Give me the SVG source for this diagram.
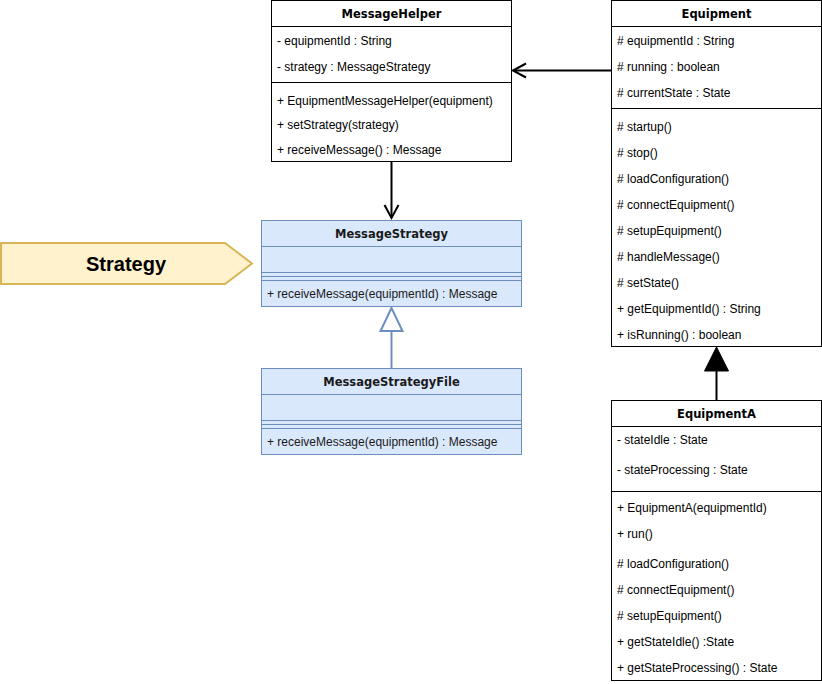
<svg xmlns="http://www.w3.org/2000/svg" width="822" height="684" viewBox="0 0 822 684">
  <style>
    .box { fill: #ffffff; stroke: #000000; stroke-width: 1; }
    .bbox { fill: #dae8fc; stroke: #6c8ebf; stroke-width: 1; }
    .sep { stroke: #000000; stroke-width: 1; fill: none; }
    .bsep { stroke: #6c8ebf; stroke-width: 1; fill: none; }
    .title { font-family: "DejaVu Sans", Verdana, sans-serif; font-weight: bold; font-size: 11.5px; fill: #000000; text-anchor: middle; }
    .item { font-family: "Liberation Sans", Arial, Helvetica, sans-serif; font-size: 12px; fill: #000000; }
    .btext { fill: #1a1a1a; }
    .edge { stroke: #000000; stroke-width: 2; fill: none; }
    .bedge { stroke: #6c8ebf; stroke-width: 2; fill: none; }
  </style>

  <!-- Connectors -->
  <g id="connectors">
    <!-- Equipment -> MessageHelper (association) -->
    <line class="edge" x1="611" y1="70.5" x2="513" y2="70.5"/>
    <polyline class="edge" points="526,63.5 513,70.5 526,77.5"/>
    <!-- MessageHelper -> MessageStrategy (association) -->
    <line class="edge" x1="391.5" y1="162" x2="391.5" y2="218"/>
    <polyline class="edge" points="384.5,205 391.5,218 398.5,205"/>
    <!-- MessageStrategyFile -> MessageStrategy (realization/generalization) -->
    <line class="bedge" x1="391.5" y1="368" x2="391.5" y2="331"/>
    <polygon class="bedge" style="fill:#ffffff" points="391.5,308 380.5,331 402.5,331"/>
    <!-- EquipmentA -> Equipment (inheritance) -->
    <line class="edge" x1="716.5" y1="400" x2="716.5" y2="370"/>
    <polygon points="716.5,347 704.5,371 728.5,371" fill="#000000" stroke="#000000" stroke-width="1"/>
  </g>

  <!-- Strategy label -->
  <g id="strategy-label">
    <polygon points="1,243 225,243 252,263.5 225,284 1,284" fill="#fff2cc" stroke="#d6b656" stroke-width="2"/>
    <text x="126" y="271" font-family="'Liberation Sans', Arial, sans-serif" font-weight="bold" font-size="20" text-anchor="middle" fill="#000000">Strategy</text>
  </g>

  <!-- MessageHelper -->
  <g id="MessageHelper">
    <rect class="box" x="271.5" y="0.5" width="240" height="161"/>
    <line class="sep" x1="271.5" y1="26.5" x2="511.5" y2="26.5"/>
    <line class="sep" x1="271.5" y1="82.5" x2="511.5" y2="82.5"/>
    <text class="title" x="391.5" y="18">MessageHelper</text>
    <text class="item" x="277" y="45">- equipmentId : String</text>
    <text class="item" x="277" y="71">- strategy : MessageStrategy</text>
    <text class="item" x="277" y="105">+ EquipmentMessageHelper(equipment)</text>
    <text class="item" x="277" y="129">+ setStrategy(strategy)</text>
    <text class="item" x="277" y="154">+ receiveMessage() : Message</text>
  </g>

  <!-- Equipment -->
  <g id="Equipment">
    <rect class="box" x="611.5" y="0.5" width="210" height="346"/>
    <line class="sep" x1="611.5" y1="26.5" x2="821.5" y2="26.5"/>
    <line class="sep" x1="611.5" y1="108.5" x2="821.5" y2="108.5"/>
    <text class="title" x="716.5" y="18">Equipment</text>
    <text class="item" x="617" y="45"># equipmentId : String</text>
    <text class="item" x="617" y="71"># running : boolean</text>
    <text class="item" x="617" y="97"># currentState : State</text>
    <text class="item" x="617" y="131"># startup()</text>
    <text class="item" x="617" y="157"># stop()</text>
    <text class="item" x="617" y="183"># loadConfiguration()</text>
    <text class="item" x="617" y="209"># connectEquipment()</text>
    <text class="item" x="617" y="235"># setupEquipment()</text>
    <text class="item" x="617" y="261"># handleMessage()</text>
    <text class="item" x="617" y="287"># setState()</text>
    <text class="item" x="617" y="313">+ getEquipmentId() : String</text>
    <text class="item" x="617" y="339">+ isRunning() : boolean</text>
  </g>

  <!-- MessageStrategy -->
  <g id="MessageStrategy">
    <rect class="bbox" x="261.5" y="220.5" width="260" height="86"/>
    <line class="bsep" x1="261.5" y1="246.5" x2="521.5" y2="246.5"/>
    <line class="bsep" x1="261.5" y1="272.5" x2="521.5" y2="272.5"/>
    <line class="bsep" x1="261.5" y1="276.5" x2="521.5" y2="276.5"/>
    <line class="bsep" x1="261.5" y1="280.5" x2="521.5" y2="280.5"/>
    <text class="title btext" x="391.5" y="238">MessageStrategy</text>
    <text class="item btext" x="267" y="298">+ receiveMessage(equipmentId) : Message</text>
  </g>

  <!-- MessageStrategyFile -->
  <g id="MessageStrategyFile">
    <rect class="bbox" x="261.5" y="368.5" width="260" height="86"/>
    <line class="bsep" x1="261.5" y1="394.5" x2="521.5" y2="394.5"/>
    <line class="bsep" x1="261.5" y1="420.5" x2="521.5" y2="420.5"/>
    <line class="bsep" x1="261.5" y1="424.5" x2="521.5" y2="424.5"/>
    <line class="bsep" x1="261.5" y1="428.5" x2="521.5" y2="428.5"/>
    <text class="title btext" x="391.5" y="386">MessageStrategyFile</text>
    <text class="item btext" x="267" y="446">+ receiveMessage(equipmentId) : Message</text>
  </g>

  <!-- EquipmentA -->
  <g id="EquipmentA">
    <rect class="box" x="611.5" y="400.5" width="210" height="280"/>
    <line class="sep" x1="611.5" y1="426.5" x2="821.5" y2="426.5"/>
    <line class="sep" x1="611.5" y1="491.5" x2="821.5" y2="491.5"/>
    <text class="title" x="716.5" y="418">EquipmentA</text>
    <text class="item" x="617" y="444">- stateIdle : State</text>
    <text class="item" x="617" y="474">- stateProcessing : State</text>
    <text class="item" x="617" y="512">+ EquipmentA(equipmentId)</text>
    <text class="item" x="617" y="538">+ run()</text>
    <text class="item" x="617" y="568"># loadConfiguration()</text>
    <text class="item" x="617" y="594"># connectEquipment()</text>
    <text class="item" x="617" y="620"># setupEquipment()</text>
    <text class="item" x="617" y="646">+ getStateIdle() :State</text>
    <text class="item" x="617" y="672">+ getStateProcessing() : State</text>
  </g>
</svg>
